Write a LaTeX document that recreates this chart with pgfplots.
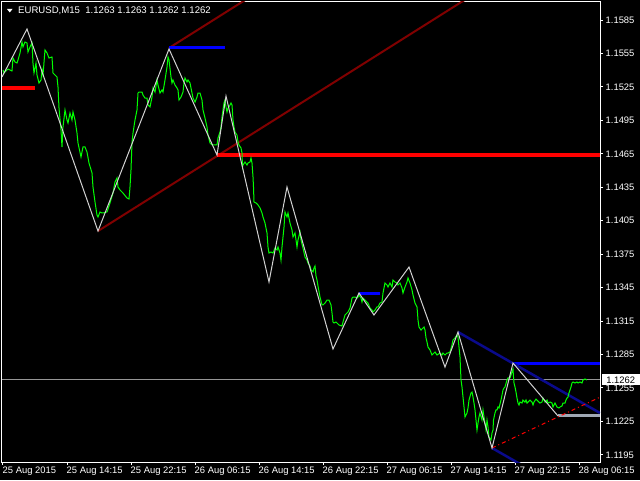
\documentclass[border=0pt]{standalone}
\usepackage{pgfplots}
\pgfplotsset{compat=1.18}
\usepackage{fontspec}
\setmainfont{Liberation Sans}
\definecolor{mtgreen}{RGB}{0,255,0}
\definecolor{zz}{RGB}{210,210,210}
\definecolor{dred}{RGB}{128,0,0}
\definecolor{mred}{RGB}{255,0,0}
\definecolor{mblue}{RGB}{0,0,255}
\definecolor{mnavy}{RGB}{10,10,140}
\definecolor{slate}{RGB}{160,168,180}
\definecolor{pgray}{RGB}{150,150,150}
\begin{document}
\begin{tikzpicture}[x=1pt,y=1pt]
\fill[black] (0,0) rectangle (640,480);
\useasboundingbox (0,0) rectangle (640,480);
\begin{axis}[at={(2pt,18pt)}, anchor=south west, scale only axis,
  width=598pt, height=460pt,
  xmin=2, xmax=600, ymin=1.118853, ymax=1.160115,
  axis line style={white, line width=1pt},
  xtick pos=bottom, ytick pos=right, yticklabel pos=right,
  tick align=outside, major tick length=3pt,
  tick style={white, line width=1pt},
  xtick={3,67,131,195,259,323,387,451,515,579},
  xticklabels={25 Aug 2015,25 Aug 14:15,25 Aug 22:15,26 Aug 06:15,26 Aug 14:15,26 Aug 22:15,27 Aug 06:15,27 Aug 14:15,27 Aug 22:15,28 Aug 06:15},
  ytick={1.1195,1.1225,1.1255,1.1285,1.1315,1.1345,1.1375,1.1405,1.1435,1.1465,1.1495,1.1525,1.1555,1.1585},
  yticklabels={1.1195,1.1225,1.1255,1.1285,1.1315,1.1345,1.1375,1.1405,1.1435,1.1465,1.1495,1.1525,1.1555,1.1585},
  tick label style={font=\fontsize{9.4}{10}\selectfont, text=white},
  xticklabel style={anchor=north west, inner sep=0pt, xshift=-0.5pt, yshift=-2pt},
  yticklabel style={anchor=west, inner sep=0pt, xshift=2.5pt},
  clip=true]
% current price line
\addplot[pgray, line width=1pt] coordinates {(2,1.12621) (600,1.12621)};
% channel lines
\addplot[dred, line width=2pt] coordinates {(98,1.13957) (600,1.16795)};
\addplot[dred, line width=2pt] coordinates {(169,1.15599) (600,1.18034)};
% horizontal levels
\addplot[mred, line width=3.5pt] coordinates {(2,1.15240) (35,1.15240)};
\addplot[mred, line width=3.5pt] coordinates {(217,1.14639) (600,1.14639)};
\addplot[mblue, line width=3pt] coordinates {(169,1.15599) (225,1.15599)};
\addplot[mblue, line width=3pt] coordinates {(359,1.13401) (380,1.13401)};
\addplot[mblue, line width=3pt] coordinates {(513,1.12773) (600,1.12773)};
\addplot[slate, line width=3pt] coordinates {(558,1.12298) (600,1.12298)};
% navy trend lines
\addplot[mnavy, line width=2.5pt] coordinates {(458,1.13051) (600,1.12325)};
\addplot[mnavy, line width=2.5pt] coordinates {(492,1.12011) (530,1.11816)};
% red dash-dot
\addplot[mred, line width=1pt, dash pattern=on 4pt off 3pt on 1pt off 3pt] coordinates {(492,1.12011) (600,1.12467)};
% close line
\addplot[mtgreen, line width=1pt] coordinates {
(3,1.15402) (4,1.15375) (6,1.15393) (8,1.15410) (12,1.15393) (13,1.15509) (15,1.15473) (17,1.15464) (18,1.15491) (20,1.15554)
(22,1.15653) (23,1.15608) (25,1.15653) (27,1.15644) (28,1.15563) (30,1.15608) (32,1.15644) (33,1.15464) (34,1.15375) (36,1.15464)
(37,1.15357) (39,1.15285) (41,1.15312) (42,1.15402) (43,1.15357) (45,1.15581) (47,1.15554) (49,1.15509) (52,1.15518) (53,1.15375)
(55,1.15357) (57,1.15339) (58,1.15249) (59,1.15061) (61,1.14863) (62,1.14711) (63,1.14890) (65,1.15043) (67,1.14953) (68,1.14926)
(70,1.15016) (72,1.14953) (73,1.15025) (75,1.14953) (77,1.14836) (78,1.14747) (81,1.14621) (83,1.14711) (85,1.14711) (87,1.14666)
(89,1.14567) (92,1.14478) (93,1.14352) (95,1.14218) (97,1.14101) (98,1.14083) (100,1.14128) (102,1.14119) (103,1.14119) (107,1.14128)
(110,1.14209) (113,1.14298) (115,1.14397) (117,1.14433) (118,1.14352) (120,1.14325) (123,1.14298) (127,1.14253) (129,1.14244) (130,1.14352)
(131,1.14505) (132,1.14747) (133,1.14836) (135,1.14953) (137,1.15043) (138,1.15195) (139,1.15204) (142,1.15204) (143,1.15177) (145,1.15150)
(147,1.15150) (148,1.15088) (150,1.15070) (152,1.15159) (153,1.15240) (155,1.15204) (157,1.15312) (158,1.15267) (160,1.15195) (162,1.15222)
(163,1.15204) (165,1.15312) (167,1.15428) (168,1.15518) (169,1.15491) (171,1.15339) (172,1.15285) (173,1.15312) (175,1.15267) (177,1.15240)
(178,1.15222) (179,1.15132) (181,1.15159) (183,1.15204) (184,1.15285) (185,1.15330) (187,1.15294) (188,1.15312) (190,1.15285) (192,1.15195)
(193,1.15150) (195,1.15114) (197,1.15159) (198,1.15195) (200,1.15195) (202,1.15132) (203,1.15043) (205,1.14971) (207,1.14890) (208,1.14818)
(210,1.14747) (212,1.14729) (215,1.14729) (217,1.14729) (218,1.14792) (220,1.14845) (221,1.14890) (222,1.14980) (223,1.15043) (224,1.15106)
(225,1.15132) (226,1.15070) (227,1.15025) (228,1.15061) (229,1.15070) (231,1.15106) (232,1.15088) (233,1.14953) (234,1.14890) (235,1.14845)
(237,1.14818) (238,1.14756) (239,1.14729) (241,1.14702) (242,1.14657) (242.5,1.14531) (243,1.14549) (245,1.14576) (247,1.14549) (248,1.14567)
(250,1.14576) (251,1.14612) (252,1.14567) (253,1.14442) (253.5,1.14352) (254,1.14218) (256,1.14209) (258,1.14191) (260,1.14164) (262,1.14119)
(263,1.14083) (265,1.14029) (267,1.13939) (268,1.13814) (269,1.13760) (271,1.13769) (273,1.13760) (275,1.13805) (277,1.13787) (278,1.13814)
(280,1.13760) (281,1.13697) (282,1.13814) (283,1.13904) (284,1.13993) (285,1.14128) (287,1.14083) (288,1.14119) (290,1.14029) (292,1.13966)
(293,1.13904) (295,1.13939) (296,1.13877) (297,1.13814) (298,1.13877) (300,1.13948) (301,1.13877) (303,1.13805) (305,1.13724) (307,1.13697)
(308,1.13670) (310,1.13643) (311,1.13608) (313,1.13590) (314,1.13625) (315,1.13643) (316,1.13554) (317,1.13518) (318,1.13464) (320,1.13365)
(322,1.13294) (323,1.13294) (325,1.13311) (327,1.13338) (329,1.13338) (331,1.13294) (332,1.13222) (333,1.13141) (334,1.13132) (336,1.13141)
(337,1.13132) (339,1.13114) (342,1.13105) (343,1.13141) (345,1.13204) (347,1.13222) (348,1.13231) (350,1.13267) (351,1.13311) (352,1.13356)
(353,1.13365) (355,1.13365) (357,1.13356) (358,1.13365) (359,1.13383) (361,1.13356) (362,1.13320) (363,1.13356) (365,1.13338) (367,1.13320)
(368,1.13311) (370,1.13267) (372,1.13249) (373,1.13231) (375,1.13249) (377,1.13276) (378,1.13276) (380,1.13311) (382,1.13320) (383,1.13401)
(385,1.13491) (387,1.13473) (388,1.13455) (390,1.13491) (392,1.13455) (393,1.13518) (395,1.13500) (397,1.13491) (398,1.13473) (400,1.13491)
(402,1.13446) (403,1.13401) (405,1.13455) (407,1.13500) (408,1.13536) (410,1.13491) (412,1.13428) (413,1.13383) (415,1.13311) (417,1.13276)
(417.5,1.13222) (418,1.13159) (419,1.13096) (421,1.13069) (423,1.13087) (424,1.13096) (425,1.13069) (426,1.12998) (427,1.12962) (428,1.12917)
(430,1.12890) (432,1.12845) (435,1.12872) (437,1.12845) (440,1.12863) (442,1.12845) (443,1.12863) (445,1.12845) (447,1.12863) (448,1.12863)
(450,1.12872) (452,1.12935) (453,1.12980) (455,1.12998) (457,1.13024) (458,1.13006) (460,1.12827) (461,1.12621) (462,1.12558) (463,1.12468)
(464,1.12379) (465,1.12289) (467,1.12325) (468,1.12370) (469,1.12441) (471,1.12504) (472,1.12513) (473,1.12468) (474,1.12414) (475,1.12352)
(476,1.12262) (477,1.12172) (478,1.12235) (479,1.12289) (480,1.12325) (482,1.12262) (483,1.12352) (484,1.12289) (485,1.12235) (486,1.12172)
(487,1.12262) (488,1.12199) (489,1.12110) (491,1.12083) (492,1.12145) (493,1.12172) (493.5,1.12262) (495,1.12325) (496,1.12352) (497,1.12352)
(498,1.12379) (499,1.12370) (501,1.12441) (502,1.12486) (503,1.12531) (504,1.12549) (505,1.12558) (507,1.12621) (508,1.12639) (510,1.12639)
(511,1.12666) (512,1.12693) (513,1.12720) (513.5,1.12648) (514,1.12594) (515,1.12558) (516,1.12513) (517,1.12459) (518,1.12414) (519,1.12397)
(520,1.12423) (522,1.12414) (523,1.12441) (525,1.12423) (526,1.12441) (527,1.12414) (528,1.12423) (530,1.12441) (532,1.12423) (533,1.12397)
(534,1.12423) (536,1.12450) (537,1.12441) (539,1.12423) (540,1.12414) (542,1.12423) (543,1.12459) (545,1.12423) (547,1.12441) (548,1.12414)
(550,1.12423) (552,1.12414) (553,1.12379) (555,1.12414) (557,1.12379) (559,1.12370) (560,1.12379) (562,1.12388) (563,1.12414) (565,1.12414)
(566,1.12441) (567,1.12459) (568,1.12468) (569,1.12504) (571,1.12558) (572,1.12594) (573,1.12603) (575,1.12594) (577,1.12603) (578,1.12594)
(580,1.12603) (582,1.12594) (583,1.12621) (585,1.12630) (587,1.12621)
};
% zigzag
\addplot[zz, line width=1pt] coordinates {
(2,1.15339) (27,1.15769) (98,1.13957) (169,1.15590) (217,1.14639) (226,1.15168) (269,1.13500) (287,1.14352)
(333,1.12899) (359,1.13401) (374,1.13204) (409,1.13634) (445,1.12737) (458,1.13051) (492,1.12011) (513,1.12773) (558,1.12298)
};
\coordinate (cp) at (axis cs:600,1.12621);
\end{axis}
\node[fill=white, text=black, anchor=west, inner sep=0pt, minimum height=11pt, minimum width=38pt, font=\fontsize{9.4}{10}\selectfont] at ([xshift=1.5pt]cp) {1.1262};
\fill[white] (7,471) -- (12.5,471) -- (9.75,467.5) -- cycle;
\node[anchor=base west, inner sep=0pt, text=white, font=\fontsize{9.6}{10}\selectfont] at (18,466) {EURUSD,M15\ \ 1.1263 1.1263 1.1262 1.1262};
\end{tikzpicture}
\end{document}
